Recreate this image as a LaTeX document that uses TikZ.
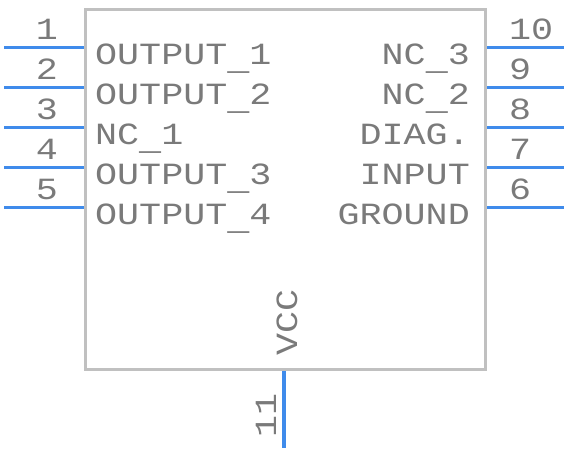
\documentclass[tikz,border=0pt]{standalone}
\usepackage{graphicx}
\usepackage{fontspec}
\setmonofont{Liberation Mono}
\definecolor{pinblue}{HTML}{3F8BEB}
\definecolor{boxgray}{HTML}{C0C0C0}
\definecolor{txtgray}{HTML}{7A7A7A}
\newcommand\sq[1]{\scalebox{1}[0.84]{#1}}
\newcommand\us{\raisebox{-5pt}{\_}}
\begin{document}
\begin{tikzpicture}[x=1pt,y=-1pt,
  pin/.style={draw=pinblue,line width=3.2pt},
  body/.style={draw=boxgray,line width=3pt,inner sep=0pt,minimum width=400pt,minimum height=360pt},
  txt/.style={text=txtgray,inner sep=0pt,font=\ttfamily\fontsize{36.7}{40}\selectfont}]
\useasboundingbox (0,0) rectangle (568,452);
\node[body,anchor=north west] (chip) at (84,8) {};
% left pins
\foreach \i/\y in {1/47.5,2/87.5,3/127.5,4/167.5,5/207.5}{
  \coordinate (L\i) at (4,\y);
  \draw[pin] (L\i) -- (L\i -| chip.west);
  \node[txt,anchor=base east] (nL\i) at (58,\y-8) {\sq{\i}};
}
% right pins
\foreach \i/\y in {10/47.5,9/87.5,8/127.5,7/167.5,6/207.5}{
  \coordinate (R\i) at (564,\y);
  \draw[pin] (chip.east |- R\i) -- (R\i);
  \node[txt,anchor=base west] (nR\i) at (509,\y-8) {\sq{\i}};
}
% bottom pin
\coordinate (B11) at (284,448);
\draw[pin] (chip.south -| B11) -- (B11);
\node[txt,anchor=base east,rotate=90] (nB11) at (276,393) {\sq{11}};
% labels
\node[txt,anchor=base west] (t1) at (95,64.5) {\sq{OUTPUT}\us\sq{1}};
\node[txt,anchor=base west] (t2) at (95,104.5) {\sq{OUTPUT}\us\sq{2}};
\node[txt,anchor=base west] (t3) at (95,144.5) {\sq{NC}\us\sq{1}};
\node[txt,anchor=base west] (t4) at (95,184.5) {\sq{OUTPUT}\us\sq{3}};
\node[txt,anchor=base west] (t5) at (95,224.5) {\sq{OUTPUT}\us\sq{4}};
\node[txt,anchor=base east] (t10) at (470,64.5) {\sq{NC}\us\sq{3}};
\node[txt,anchor=base east] (t9) at (470,104.5) {\sq{NC}\us\sq{2}};
\node[txt,anchor=base east] (t8) at (470,144.5) {\sq{DIAG.}};
\node[txt,anchor=base east] (t7) at (470,184.5) {\sq{INPUT}};
\node[txt,anchor=base east] (t6) at (470,224.5) {\sq{GROUND}};
\node[txt,anchor=base west,rotate=90] (t11) at (297,356) {\sq{VCC}};
\end{tikzpicture}
\end{document}
